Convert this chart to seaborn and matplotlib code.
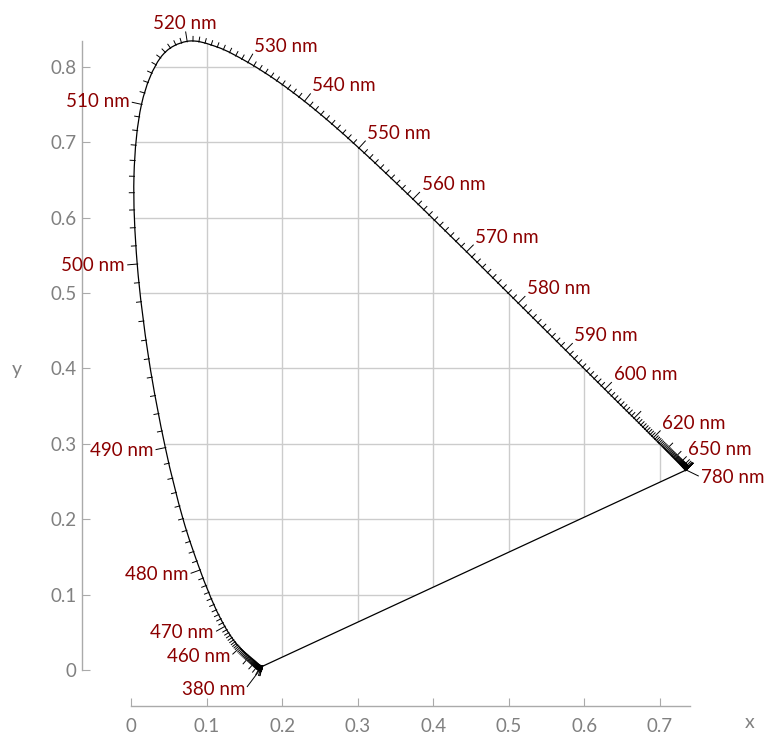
import numpy as np
import pandas as pd
import matplotlib
matplotlib.use("Agg")
import matplotlib.pyplot as plt
from matplotlib.patches import Polygon, PathPatch
from matplotlib.path import Path
from matplotlib.collections import LineCollection
import seaborn as sns

# CIE 1931 2-degree observer: chromaticity of the spectral locus, 5 nm steps
wavelength_nm = list(range(380, 785, 5))
cie_x = [0.1741, 0.1740, 0.1738, 0.1736, 0.1733, 0.1730, 0.1726, 0.1721,
         0.1714, 0.1703, 0.1689, 0.1669, 0.1644, 0.1611, 0.1566, 0.1510,
         0.1440, 0.1355, 0.1241, 0.1096, 0.0913, 0.0687, 0.0454, 0.0235,
         0.0082, 0.0039, 0.0139, 0.0389, 0.0743, 0.1142, 0.1547, 0.1929,
         0.2296, 0.2658, 0.3016, 0.3373, 0.3731, 0.4087, 0.4441, 0.4788,
         0.5125, 0.5448, 0.5752, 0.6029, 0.6270, 0.6482, 0.6658, 0.6801,
         0.6915, 0.7006, 0.7079, 0.7140, 0.7190, 0.7230, 0.7260, 0.7283,
         0.7300, 0.7311, 0.7320, 0.7327, 0.7334, 0.7340, 0.7344, 0.7346,
         0.7347, 0.7347, 0.7347, 0.7347, 0.7347, 0.7347, 0.7347, 0.7347,
         0.7347, 0.7347, 0.7347, 0.7347, 0.7347, 0.7347, 0.7347, 0.7347,
         0.7347]
cie_y = [0.0050, 0.0050, 0.0049, 0.0049, 0.0048, 0.0048, 0.0048, 0.0048,
         0.0051, 0.0058, 0.0069, 0.0086, 0.0109, 0.0138, 0.0177, 0.0227,
         0.0297, 0.0399, 0.0578, 0.0868, 0.1327, 0.2007, 0.2950, 0.4127,
         0.5384, 0.6548, 0.7502, 0.8120, 0.8338, 0.8262, 0.8059, 0.7816,
         0.7543, 0.7243, 0.6923, 0.6589, 0.6245, 0.5896, 0.5547, 0.5202,
         0.4866, 0.4544, 0.4242, 0.3965, 0.3725, 0.3514, 0.3340, 0.3197,
         0.3083, 0.2993, 0.2920, 0.2859, 0.2809, 0.2770, 0.2740, 0.2717,
         0.2700, 0.2689, 0.2680, 0.2673, 0.2666, 0.2660, 0.2656, 0.2654,
         0.2653, 0.2653, 0.2653, 0.2653, 0.2653, 0.2653, 0.2653, 0.2653,
         0.2653, 0.2653, 0.2653, 0.2653, 0.2653, 0.2653, 0.2653, 0.2653,
         0.2653]

# wavelengths that carry a text label
labelled_nm = [380, 460, 470, 480, 490, 500, 510, 520, 530, 540, 550,
               560, 570, 580, 590, 600, 620, 650, 780]

x_ticks = [0, 0.1, 0.2, 0.3, 0.4, 0.5, 0.6, 0.7]
x_tick_labels = ["0", "0.1", "0.2", "0.3", "0.4", "0.5", "0.6", "0.7"]
y_ticks = [0, 0.1, 0.2, 0.3, 0.4, 0.5, 0.6, 0.7, 0.8]
y_tick_labels = ["0", "0.1", "0.2", "0.3", "0.4", "0.5", "0.6", "0.7", "0.8"]

sns.set_theme(style="white")
plt.rcParams["font.family"] = ["Lato", "DejaVu Sans"]

W, H = 767, 736
fig = plt.figure(figsize=(W / 100, H / 100), dpi=100)
ax = fig.add_axes([0, 0, 1, 1])
ax.set_facecolor("white")
ax.set_xlim(-0.1734, 0.8417)
ax.set_ylim(-0.0875, 0.8886)
PX = 1 / 755.6  # one pixel in data units

pts = np.column_stack([cie_x, cie_y])
n_pts = len(pts)

# smooth (Catmull-Rom) cubic Bezier control points between table entries
ext = np.vstack([pts[0], pts, pts[-1]])
ctrl1 = pts[:-1] + (ext[2:-1] - ext[:-3]) / 6.0
ctrl2 = pts[1:] - (ext[3:] - ext[1:-2]) / 6.0

verts = [pts[0]]
codes = [Path.MOVETO]
for i in range(n_pts - 1):
    verts += [ctrl1[i], ctrl2[i], pts[i + 1]]
    codes += [Path.CURVE4] * 3
locus_path = Path(verts, codes)
ax.add_patch(PathPatch(locus_path, facecolor="none", edgecolor="black",
                       linewidth=0.9, zorder=4))

# line of purples
purple_df = pd.DataFrame({"x": [cie_x[-1], cie_x[0]], "y": [cie_y[-1], cie_y[0]]})
sns.lineplot(data=purple_df, x="x", y="y", sort=False, estimator=None,
             color="black", linewidth=0.9, ax=ax, zorder=4)


def on_curve(w):
    """Point on the drawn locus at wavelength w (nm)."""
    i = min(int((w - 380) // 5), n_pts - 2)
    t = (w - 380 - 5 * i) / 5.0
    a, b, c, d = pts[i], ctrl1[i], ctrl2[i], pts[i + 1]
    return ((1 - t) ** 3) * a + 3 * ((1 - t) ** 2) * t * b \
        + 3 * (1 - t) * t * t * c + t ** 3 * d


nm = np.arange(380, 781)
curve_pts = np.array([on_curve(w) for w in nm])

# grid clipped to the inside of the gamut
gamut = Polygon(curve_pts, closed=True, transform=ax.transData)
vl = ax.vlines(x_ticks[1:], 0, 0.9, colors="#cccccc", linewidth=1.0, zorder=1)
hl = ax.hlines(y_ticks[1:], 0, 0.8, colors="#cccccc", linewidth=1.0, zorder=1)
vl.set_clip_path(gamut)
hl.set_clip_path(gamut)


def outward_normal(k):
    dx = dy = 0.0
    for h in range(1, 400):
        p0 = curve_pts[max(k - h, 0)]
        p1 = curve_pts[min(k + h, len(curve_pts) - 1)]
        dx, dy = p1 - p0
        if np.hypot(dx, dy) > 0.004:
            break
    n = np.array([-dy, dx])
    return n / np.hypot(*n)


# wavelength ticks, one per nanometre, longer every 10 nm
segs = []
label_pos = {}
for k, w in enumerate(nm):
    p = curve_pts[k]
    n = outward_normal(k)
    length = 10 if w % 10 == 0 else 5
    if w == 380:
        n, length = np.array([-0.60, -0.80]), 26
    if w == 780:
        n, length = np.array([0.90, -0.44]), 14
    segs.append([p - 1.0 * PX * n, p + length * PX * n])
    if w in labelled_nm:
        label_pos[w] = (p + (length + 2.5) * PX * n, n)

ax.add_collection(LineCollection(segs, colors="black", linewidths=0.7, zorder=5))

for w, (pos, n) in label_pos.items():
    ha = "left" if n[0] > 0.3 else ("right" if n[0] < -0.3 else "center")
    va = "baseline" if n[1] > 0.5 else "center"
    ax.text(pos[0], pos[1], f"{w} nm", ha=ha, va=va, color="#8b0000",
            fontsize=13.5, zorder=6)

# detached axis lines
for side in ["top", "right"]:
    ax.spines[side].set_visible(False)
ax.spines["left"].set_position(("data", -0.0648))
ax.spines["bottom"].set_position(("data", -0.0477))
ax.spines["left"].set_bounds(0, max(cie_y))
ax.spines["bottom"].set_bounds(0, max(cie_x) + 0.005)
for side in ["left", "bottom"]:
    ax.spines[side].set_color("#aaaaaa")
    ax.spines[side].set_linewidth(1.0)
ax.set_xticks(x_ticks, x_tick_labels)
ax.set_yticks(y_ticks, y_tick_labels)
ax.grid(False)
ax.tick_params(axis="both", direction="in", length=5.5, width=0.8,
               color="#aaaaaa", labelcolor="#808080", labelsize=13.5,
               bottom=True, left=True)
ax.tick_params(axis="x", pad=9)
ax.tick_params(axis="y", pad=4)
ax.set_xlabel("")
ax.set_ylabel("")

fig.text(750 / W, 1 - 722 / H, "x", ha="center", va="center",
         color="#808080", fontsize=14)
fig.text(17 / W, 1 - 370 / H, "y", ha="center", va="center",
         color="#808080", fontsize=14)

fig.savefig("out.png", dpi=100)
